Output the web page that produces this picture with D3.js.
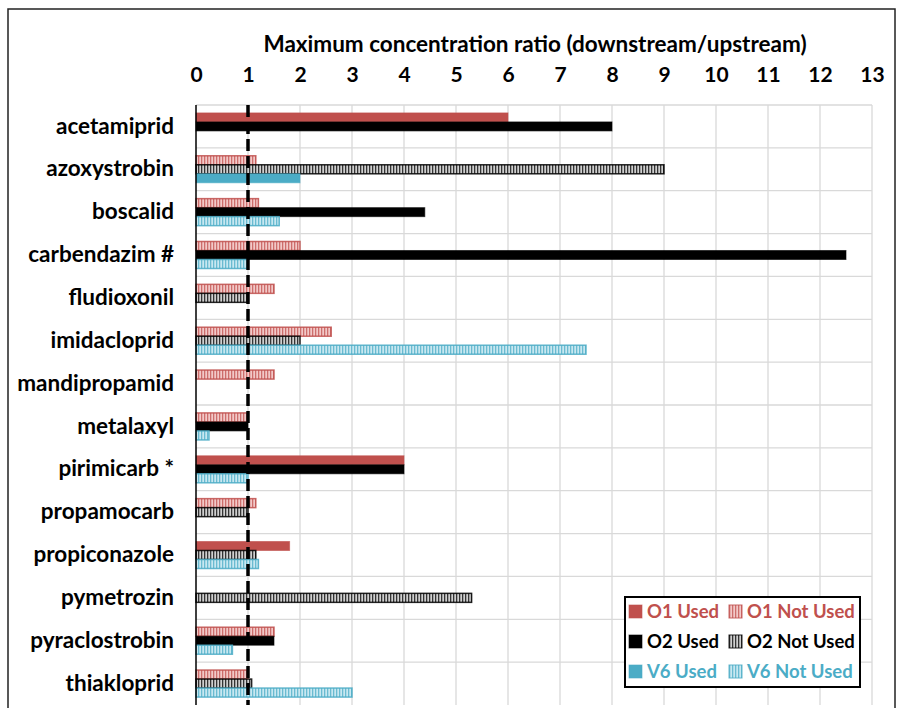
<!DOCTYPE html>
<html>
<head>
<meta charset="utf-8">
<script src="https://cdn.jsdelivr.net/npm/d3@7"></script>
<style>
  body { margin: 0; background: #fff; }
  text { font-family: Lato, "Open Sans", sans-serif; font-weight: bold; }
</style>
</head>
<body>
<svg id="chart" width="897" height="708"></svg>
<script>
// categories (top to bottom)
var categories = ['acetamiprid', 'azoxystrobin', 'boscalid', 'carbendazim #', 'fludioxonil',
  'imidacloprid', 'mandipropamid', 'metalaxyl', 'pirimicarb *', 'propamocarb',
  'propiconazole', 'pymetrozin', 'pyraclostrobin', 'thiakloprid'];

// series values, null = no bar
var o1Used    = [6.0, null, null, null, null, null, null, null, 4.0, null, 1.8, null, null, null];
var o1NotUsed = [null, 1.15, 1.2, 2.0, 1.5, 2.6, 1.5, 1.0, null, 1.15, null, null, 1.5, 1.0];
var o2Used    = [8.0, null, 4.4, 12.5, null, null, null, 1.0, 4.0, null, null, null, 1.5, null];
var o2NotUsed = [null, 9.0, null, null, 1.0, 2.0, null, null, null, 1.0, 1.15, 5.3, null, 1.07];
var v6Used    = [null, 2.0, null, null, null, null, null, null, null, null, null, null, null, null];
var v6NotUsed = [null, null, 1.6, 1.0, null, 7.5, null, 0.25, 1.0, null, 1.2, null, 0.7, 3.0];

var xTicks = d3.range(0, 14);
var titleText = 'Maximum concentration ratio (downstream/upstream)';

var red = '#c0504d', black = '#000', blue = '#4bacc6';

var series = [
  { name: 'O1 Used', slot: 'O1', values: o1Used, color: red, hatch: false },
  { name: 'O1 Not Used', slot: 'O1', values: o1NotUsed, color: red, hatch: true, light: '#f2c9c8', pid: 'hr' },
  { name: 'O2 Used', slot: 'O2', values: o2Used, color: black, hatch: false },
  { name: 'O2 Not Used', slot: 'O2', values: o2NotUsed, color: black, hatch: true, light: '#d0d0d0', pid: 'hk' },
  { name: 'V6 Used', slot: 'V6', values: v6Used, color: blue, hatch: false },
  { name: 'V6 Not Used', slot: 'V6', values: v6NotUsed, color: blue, hatch: true, light: '#c8e8f1', pid: 'hb' }
];

var svg = d3.select('#chart');
var plotLeft = 196, plotRight = 872, plotTop = 105, plotBottom = 705;

var x = d3.scaleLinear().domain([0, 13]).range([plotLeft, plotRight]);
var y0 = d3.scaleBand().domain(categories).range([plotTop, plotBottom]).padding(0);
var y1 = d3.scaleBand().domain(['O1', 'O2', 'V6']).range([0, y0.bandwidth()])
  .paddingInner(0).paddingOuter(0.88);

// hatch patterns
var defs = svg.append('defs');
series.filter(function (s) { return s.hatch; }).forEach(function (s) {
  var p = defs.append('pattern').attr('id', s.pid).attr('patternUnits', 'userSpaceOnUse')
    .attr('width', 3).attr('height', 10);
  p.append('rect').attr('width', 3).attr('height', 10).attr('fill', s.light);
  p.append('rect').attr('x', 0).attr('width', 1.3).attr('height', 10).attr('fill', s.color)
    .attr('opacity', 0.75);
});

// outer frame
svg.append('rect').attr('x', 8).attr('y', 9).attr('width', 887).attr('height', 720)
  .attr('fill', 'none').attr('stroke', '#222').attr('stroke-width', 1.5);

// gridlines
svg.append('g').selectAll('line').data(xTicks.slice(1)).enter().append('line')
  .attr('x1', function (d) { return x(d); }).attr('x2', function (d) { return x(d); })
  .attr('y1', plotTop).attr('y2', plotBottom).attr('stroke', '#d9d9d9').attr('stroke-width', 1.3);
svg.append('g').selectAll('line').data(categories).enter().append('line')
  .attr('x1', plotLeft).attr('x2', plotRight)
  .attr('y1', function (d) { return y0(d); }).attr('y2', function (d) { return y0(d); })
  .attr('stroke', '#d9d9d9').attr('stroke-width', 1.3);

// top axis
var xAxis = svg.append('g').attr('transform', 'translate(0,' + 82 + ')')
  .call(d3.axisTop(x).tickValues(xTicks).tickSize(0).tickPadding(0).tickFormat(d3.format('d')));
xAxis.select('.domain').remove();
xAxis.selectAll('text').attr('font-size', 21).attr('fill', '#000')
  .style('font-family', 'Lato, sans-serif').style('font-weight', 'bold');

// title
svg.append('text').attr('x', 535).attr('y', 52).attr('text-anchor', 'middle')
  .attr('font-size', 22.5).attr('fill', '#000').text(titleText);

// category labels
var yAxis = svg.append('g').attr('transform', 'translate(174,0)')
  .call(d3.axisLeft(y0).tickSize(0).tickPadding(0));
yAxis.select('.domain').remove();
yAxis.selectAll('text').attr('font-size', 22.5).attr('fill', '#000')
  .style('font-family', 'Lato, sans-serif').style('font-weight', 'bold');

// bars
series.forEach(function (s) {
  var data = s.values.map(function (v, i) { return { cat: categories[i], v: v }; })
    .filter(function (d) { return d.v != null; });
  svg.append('g').selectAll('rect').data(data).enter().append('rect')
    .attr('x', x(0))
    .attr('y', function (d) { return y0(d.cat) + y1(s.slot); })
    .attr('width', function (d) { return x(d.v) - x(0); })
    .attr('height', y1.bandwidth())
    .attr('fill', s.hatch ? 'url(#' + s.pid + ')' : s.color)
    .attr('stroke', s.color)
    .attr('stroke-opacity', s.hatch ? 0.85 : 0.6)
    .attr('stroke-width', s.hatch ? 1.5 : 1);
});

// left axis line
svg.append('line').attr('x1', plotLeft).attr('x2', plotLeft).attr('y1', plotTop).attr('y2', plotBottom)
  .attr('stroke', '#000').attr('stroke-width', 1.5);

// reference line at ratio 1
svg.append('line').attr('x1', x(1)).attr('x2', x(1)).attr('y1', plotTop).attr('y2', plotBottom)
  .attr('stroke', '#000').attr('stroke-width', 3.5).attr('stroke-dasharray', '12,5');

// legend
var lg = svg.append('g').attr('transform', 'translate(625,597)');
lg.append('rect').attr('width', 235).attr('height', 90).attr('fill', '#fff')
  .attr('stroke', '#000').attr('stroke-width', 2);
series.forEach(function (s, i) {
  var col = i % 2, row = Math.floor(i / 2);
  var g = lg.append('g').attr('transform', 'translate(' + (4 + col * 100) + ',' + (15 + row * 30) + ')');
  g.append('rect').attr('x', 0).attr('y', -7).attr('width', 13).attr('height', 13)
    .attr('fill', s.hatch ? 'url(#' + s.pid + ')' : s.color)
    .attr('stroke', s.color).attr('stroke-opacity', s.hatch ? 0.85 : 0.6);
  g.append('text').attr('x', 18).attr('y', 0).attr('dy', '0.35em')
    .attr('font-size', 18.5).attr('fill', s.color).text(s.name);
});
</script>
</body>
</html>
